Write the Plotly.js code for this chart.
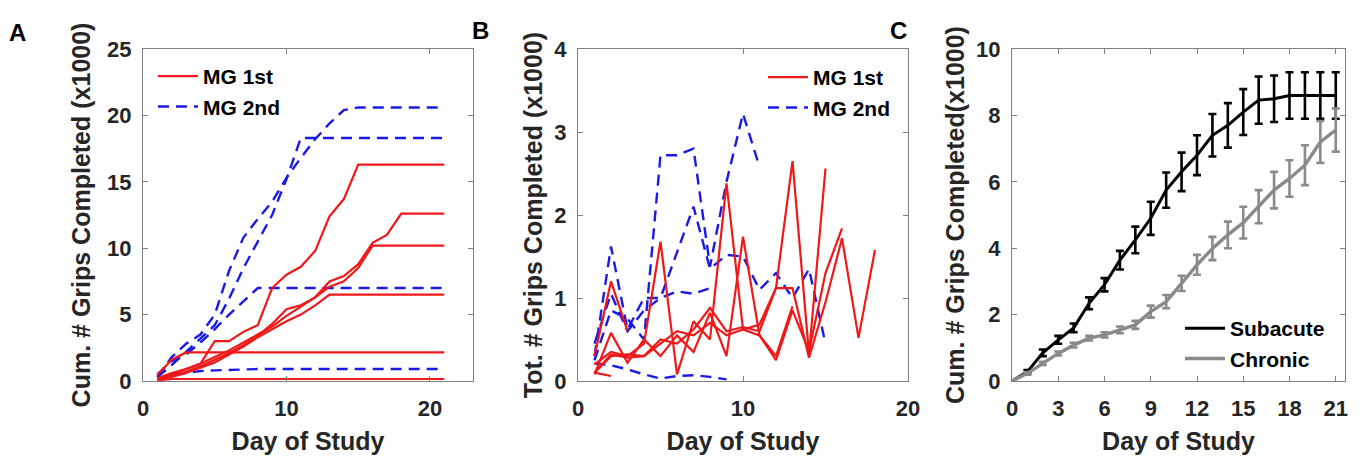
<!DOCTYPE html>
<html>
<head>
<meta charset="utf-8">
<script src="https://cdn.plot.ly/plotly-3.0.1.min.js"></script>
<style>
html,body{margin:0;padding:0;background:#fff;}
#chart{width:1363px;height:464px;}
</style>
</head>
<body>
<div id="chart"></div>
<script>
// ---------- Panel A: cumulative grips (x1000), days 1..21 ----------
const daysA = [1,2,3,4,5,6,7,8,9,10,11,12,13,14,15,16,17,18,19,20,21];
const cumMG1_a = [0.2,0.6,0.9,1.3,3.0,3.0,3.7,4.2,7.0,8.0,8.6,9.8,12.4,13.7,16.3,16.3,16.3,16.3,16.3,16.3,16.3];
const cumMG1_b = [0.1,0.4,0.7,1.1,1.6,2.1,2.7,3.4,4.3,5.4,5.7,6.3,7.5,7.9,8.8,10.4,11.0,12.6,12.6,12.6,12.6];
const cumMG1_c = [0.1,0.5,0.9,1.3,1.8,2.3,2.9,3.5,4.1,4.9,5.6,6.3,7.1,7.5,8.5,10.2,10.2,10.2,10.2,10.2,10.2];
const cumMG1_d = [0.1,0.3,0.6,1.0,1.4,2.0,2.6,3.3,3.9,4.5,5.0,5.7,6.5,6.5,6.5,6.5,6.5,6.5,6.5,6.5,6.5];
const cumMG1_e = [0.45,1.6,2.15,2.15,2.15,2.15,2.15,2.15,2.15,2.15,2.15,2.15,2.15,2.15,2.15,2.15,2.15,2.15,2.15,2.15,2.15];
const cumMG1_f = [0.05,0.15,0.15,0.15,0.15,0.15,0.15,0.15,0.15,0.15,0.15,0.15,0.15,0.15,0.15,0.15,0.15,0.15,0.15,0.15,0.15];
const cumMG2_a = [0.3,1.8,2.8,3.5,5.0,8.3,10.8,12.2,13.5,15.3,16.8,18.2,19.4,20.4,20.6,20.6,20.6,20.6,20.6,20.6,20.6];
const cumMG2_b = [0.3,1.2,2.2,3.2,4.2,6.2,8.5,10.5,12.5,15.2,18.3,18.3,18.3,18.3,18.3,18.3,18.3,18.3,18.3,18.3,18.3];
const cumMG2_c = [0.5,1.5,2.0,2.9,3.9,5.0,6.0,7.0,7.0,7.0,7.0,7.0,7.0,7.0,7.0,7.0,7.0,7.0,7.0,7.0,7.0];
const cumMG2_d = [0.2,0.45,0.6,0.75,0.8,0.85,0.9,0.9,0.9,0.9,0.9,0.9,0.9,0.9,0.9,0.9,0.9,0.9,0.9,0.9,0.9];

// ---------- Panel B: daily total grips (x1000) ----------
const totMG1_a = [0.2,0.35,0.3,0.45,1.68,0.08,0.72,0.5,2.38,0.62,0.68,1.12,2.65,0.32,2.56];
const totMG1_b = [0.1,0.32,0.28,0.3,0.5,0.45,0.62,0.88,0.6,0.65,0.6,1.12,1.12,0.28,0.95,1.72,0.52,1.58];
const totMG1_c = [0.08,0.58,0.22,0.5,0.3,0.55,0.35,0.82,0.3,1.74,0.55,0.25,0.85,0.36,1.3,1.84];
const totMG1_d = [0.1,0.3,0.32,0.3,0.45,0.6,0.55,0.7,0.55,0.62,0.55,0.3,0.9];
const totMG1_e = [0.3,1.2,0.6];
const totMG1_f = [0.1,0.06];
const totMG2_a = [0.25,0.85,0.75,0.5,2.72,2.72,2.8,1.38,2.4,3.22,2.58];
const totMG2_b = [0.3,1.62,0.62,1.0,1.0,1.55,2.1,1.35,1.52,1.5,1.1,1.3,1.0,1.35,0.45];
const totMG2_c = [0.45,1.05,0.6,0.85,1.0,1.08,1.05,1.12];
const totMG2_d = [0.21,0.19,0.14,0.08,0.03,0.06,0.07,0.05,0.02];

// ---------- Panel C: group means with error bars ----------
const daysC = [0,1,2,3,4,5,6,7,8,9,10,11,12,13,14,15,16,17,18,19,20,21];
const subacute = [0,0.28,0.85,1.24,1.6,2.34,2.9,3.64,4.25,4.9,5.75,6.3,6.8,7.4,7.7,8.1,8.46,8.5,8.6,8.6,8.6,8.6];
const subacuteErr = [0,0.05,0.1,0.12,0.13,0.18,0.2,0.28,0.4,0.5,0.53,0.58,0.6,0.64,0.67,0.69,0.71,0.7,0.7,0.7,0.7,0.7];
const chronic = [0,0.23,0.53,0.83,1.08,1.29,1.39,1.54,1.69,2.09,2.39,2.94,3.5,3.99,4.4,4.77,5.25,5.75,6.1,6.5,7.2,7.56];
const chronicErr = [0,0.04,0.05,0.06,0.07,0.07,0.08,0.1,0.12,0.18,0.2,0.23,0.3,0.35,0.4,0.48,0.5,0.55,0.55,0.6,0.63,0.65];

const tickA_x = [0,10,20], tickA_y = [0,5,10,15,20,25];
const tickB_x = [0,10,20], tickB_y = [0,1,2,3,4];
const tickC_x = [0,3,6,9,12,15,18,21], tickC_y = [0,2,4,6,8,10];

const FONT = 'Liberation Sans, Arial, Helvetica, sans-serif';
const RED = '#f01818', BLUE = '#1a1ae6', GRAY = '#8a8a8a';
const W = 1363, H = 464;
const px = v => v / W, py = v => 1 - v / H;

function days(n){ return daysA.slice(0, n); }

const traces = [];
function addLine(x, y, color, dash, xa, ya, leg, name, show, width){
  traces.push({x:x, y:y, type:'scatter', mode:'lines', xaxis:xa, yaxis:ya,
    line:{color:color, width:width, dash:dash}, name:name, showlegend:show,
    legend:leg, legendrank: color===RED?1:2, hoverinfo:'skip'});
}
// Panel A
[cumMG2_a,cumMG2_b,cumMG2_c,cumMG2_d].forEach((s,i)=>addLine(daysA, s, BLUE, '11px,7px', 'x','y','legend','MG 2nd', i===0, 2.4));
[cumMG1_a,cumMG1_b,cumMG1_c,cumMG1_d,cumMG1_e,cumMG1_f].forEach((s,i)=>addLine(daysA, s, RED, 'solid', 'x','y','legend','MG 1st', i===0, 2.2));
// Panel B
[totMG2_a,totMG2_b,totMG2_c,totMG2_d].forEach((s,i)=>addLine(days(s.length), s, BLUE, '11px,7px', 'x2','y2','legend2','MG 2nd', i===0, 2.4));
[totMG1_a,totMG1_b,totMG1_c,totMG1_d,totMG1_e,totMG1_f].forEach((s,i)=>addLine(days(s.length), s, RED, 'solid', 'x2','y2','legend2','MG 1st', i===0, 2.2));
// Panel C
traces.push({x:daysC, y:subacute, type:'scatter', mode:'lines', xaxis:'x3', yaxis:'y3',
  name:'Subacute', legend:'legend3', line:{color:'#000000', width:3},
  error_y:{type:'data', array:subacuteErr, visible:true, color:'#000000', thickness:2.6, width:4}, cliponaxis:false, hoverinfo:'skip'});
traces.push({x:daysC, y:chronic, type:'scatter', mode:'lines', xaxis:'x3', yaxis:'y3',
  name:'Chronic', legend:'legend3', line:{color:GRAY, width:3.4},
  error_y:{type:'data', array:chronicErr, visible:true, color:GRAY, thickness:2.6, width:4}, cliponaxis:false, hoverinfo:'skip'});

const tickFont = {family:FONT, size:22, color:'#262626', weight:'bold'};
const titleFont = {family:FONT, size:25, color:'#262626', weight:'bold'};
function axis(extra){
  return Object.assign({showline:true, linecolor:'#808080', linewidth:1, mirror:'ticks',
    ticks:'inside', ticklen:5, tickwidth:1, tickcolor:'#808080', showgrid:false, zeroline:false,
    tickfont:tickFont, fixedrange:true, tickmode:'array'}, extra);
}
const yDom = [py(381), py(49)];
const legFont = {family:FONT, size:21, color:'#000000', weight:'bold'};
function legend(x, y){
  return {x:px(x), y:py(y), xanchor:'left', yanchor:'top', bgcolor:'rgba(0,0,0,0)',
    font:legFont, itemwidth:40, tracegroupgap:0, traceorder:'normal'};
}
function letter(t, x, y){
  return {text:t, x:px(x), y:py(y), xref:'paper', yref:'paper', xanchor:'center', yanchor:'middle',
    showarrow:false, font:{family:FONT,size:24,color:'#000',weight:'bold'}};
}

const layout = {
  width:W, height:H, margin:{l:0,r:0,t:0,b:0}, paper_bgcolor:'#ffffff', plot_bgcolor:'#ffffff',
  showlegend:true,
  xaxis: axis({domain:[px(143),px(473)], range:[0,23], tickvals:tickA_x, anchor:'y', ticklabelstandoff:8,
    title:{text:'Day of Study', font:titleFont, standoff:12}}),
  yaxis: axis({domain:yDom, range:[0,25], tickvals:tickA_y, anchor:'x', ticklabelstandoff:6,
    title:{text:'Cum. # Grips Completed (x1000)', font:titleFont, standoff:9}}),
  xaxis2: axis({domain:[px(578),px(908)], range:[0,20], tickvals:tickB_x, anchor:'y2', ticklabelstandoff:8,
    title:{text:'Day of Study', font:titleFont, standoff:12}}),
  yaxis2: axis({domain:yDom, range:[0,4], tickvals:tickB_y, anchor:'x2', ticklabelstandoff:6,
    title:{text:'Tot. # Grips Completed (x1000)', font:titleFont, standoff:4}}),
  xaxis3: axis({domain:[px(1012),px(1345)], range:[0,21.6], tickvals:tickC_x, anchor:'y3', ticklabelstandoff:8,
    title:{text:'Day of Study', font:titleFont, standoff:12}}),
  yaxis3: axis({domain:yDom, range:[0,10], tickvals:tickC_y, anchor:'x3', ticklabelstandoff:6,
    title:{text:'Cum. # Grips Completed(x1000)', font:titleFont, standoff:4}}),
  legend: legend(153, 56),
  legend2: legend(763, 57),
  legend3: legend(1180, 308),
  annotations: [ letter('A', 17, 33), letter('B', 480, 31), letter('C', 899, 31) ]
};

Plotly.newPlot('chart', traces, layout, {staticPlot:true, displayModeBar:false});
</script>
</body>
</html>
